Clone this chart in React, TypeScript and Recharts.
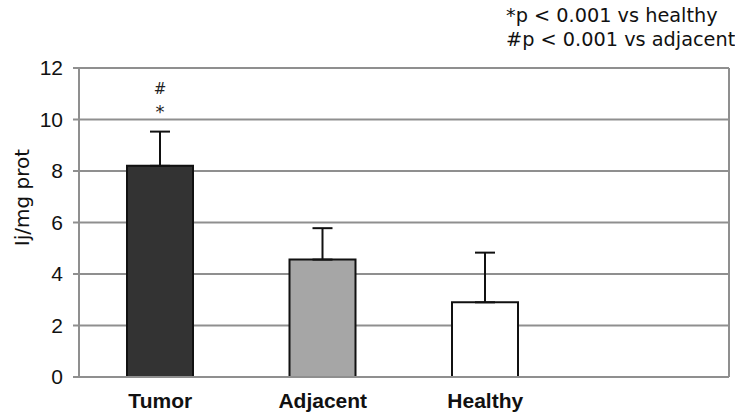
import React from "react";
import {
  BarChart,
  Bar,
  XAxis,
  YAxis,
  CartesianGrid,
  ErrorBar,
  Cell,
  LabelList,
  Label,
} from "recharts";

const categories = ["Tumor", "Adjacent", "Healthy", ""];
const means = [8.2, 4.56, 2.9, null];
const upperErrors = [1.33, 1.22, 1.93, null];
const marks = ["#*", "", "", ""];
const fills = ["#333333", "#a6a6a6", "#ffffff", "#ffffff"];
const yTicks = [0, 2, 4, 6, 8, 10, 12];
const notes = ["*p < 0.001 vs healthy", "#p < 0.001 vs adjacent"];

const data = categories.map((name, i) => ({
  name,
  value: means[i],
  err: upperErrors[i] == null ? null : [0, upperErrors[i]],
  mark: marks[i],
}));

const GRID = "#8f8f8f";

const renderMark = (props: any) => {
  const { x, y, width, value } = props;
  if (!value) return null;
  const cx = x + width / 2;
  return (
    <g>
      <text
        x={cx}
        y={y - 72}
        textAnchor="middle"
        fontFamily="DejaVu Sans"
        fontSize={15}
        fill="#222"
      >
        {value[0]}
      </text>
      <text
        x={cx}
        y={y - 48}
        textAnchor="middle"
        fontFamily="DejaVu Sans"
        fontSize={18}
        fill="#222"
      >
        {value[1]}
      </text>
    </g>
  );
};

const renderYLabel = (props: any) => {
  const vb = props.viewBox || {};
  const cx = (vb.x || 0) + 22;
  const cy = (vb.y || 0) + (vb.height || 0) / 2 - 25;
  return (
    <text
      x={cx}
      y={cy}
      transform={`rotate(-90, ${cx}, ${cy})`}
      textAnchor="middle"
      dominantBaseline="central"
      fontFamily="DejaVu Sans"
      fontSize={20}
      fill="#111"
    >
      Ij/mg prot
    </text>
  );
};

export default function App() {
  return (
    <div
      style={{
        position: "absolute",
        left: 0,
        top: 0,
        width: 735,
        height: 413,
        background: "#fff",
      }}
    >
      <BarChart
        width={735}
        height={413}
        data={data}
        margin={{ top: 68, right: 3, bottom: 0, left: 0 }}
      >
        <CartesianGrid
          yAxisId="left"
          vertical={false}
          stroke={GRID}
          strokeWidth={2}
          strokeDasharray=""
        />
        <XAxis
          dataKey="name"
          height={36}
          axisLine={{ stroke: GRID, strokeWidth: 2 }}
          tickLine={false}
          tickSize={0}
          tickMargin={16}
          interval={0}
          tick={{
            fontFamily: "Liberation Sans",
            fontSize: 21,
            fontWeight: "bold",
            fill: "#111",
          }}
        />
        <YAxis
          yAxisId="left"
          width={79}
          domain={[0, 12]}
          ticks={yTicks}
          interval={0}
          axisLine={{ stroke: GRID, strokeWidth: 2 }}
          tickLine={{ stroke: GRID, strokeWidth: 2 }}
          tickSize={6}
          tickMargin={10}
          tick={{ fontFamily: "Liberation Sans", fontSize: 21, fill: "#111" }}
        >
          <Label content={renderYLabel} />
        </YAxis>
        <YAxis
          yAxisId="right"
          orientation="right"
          width={3}
          domain={[0, 12]}
          tick={false}
          tickLine={false}
          axisLine={{ stroke: GRID, strokeWidth: 2 }}
        />
        <Bar
          yAxisId="left"
          dataKey="value"
          barSize={66}
          stroke="#111"
          strokeWidth={2}
          isAnimationActive={false}
        >
          {data.map((d, i) => (
            <Cell key={d.name + i} fill={fills[i]} />
          ))}
          <ErrorBar
            dataKey="err"
            width={10}
            stroke="#111"
            strokeWidth={2}
            direction="y"
            isAnimationActive={false}
          />
          <LabelList dataKey="mark" content={renderMark} />
        </Bar>
      </BarChart>
      <div
        style={{
          position: "absolute",
          left: 506,
          top: 4,
          fontFamily: "DejaVu Sans",
          fontSize: 19.3,
          lineHeight: "24px",
          color: "#111",
          whiteSpace: "pre",
        }}
      >
        {notes.map((n) => (
          <div key={n}>{n}</div>
        ))}
      </div>
    </div>
  );
}
